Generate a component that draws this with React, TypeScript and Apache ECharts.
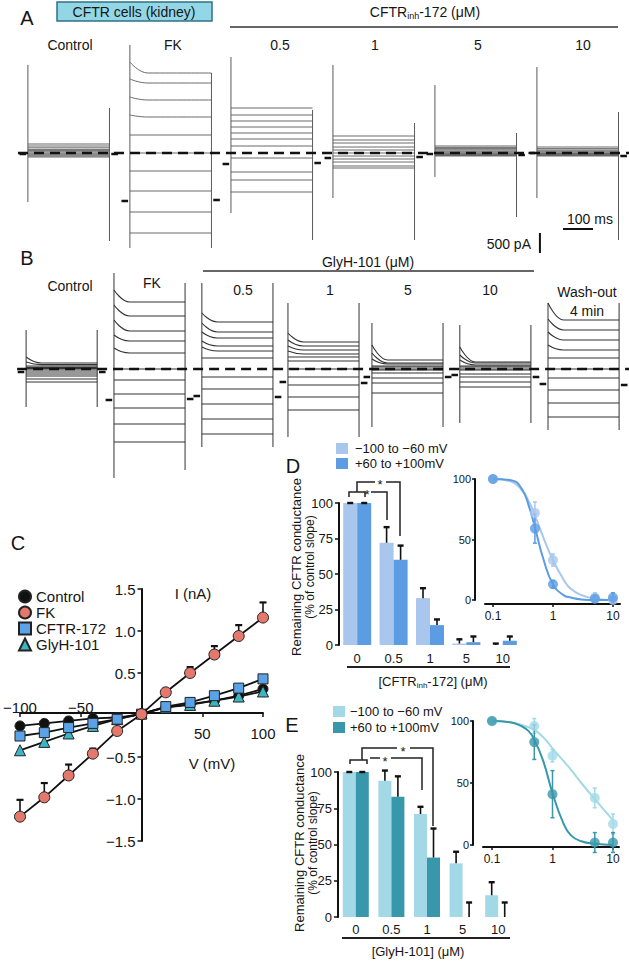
import React, { useEffect, useRef } from 'react';
import * as echarts from 'echarts';

const FONT = '"Liberation Sans", Arial, Helvetica, sans-serif';
const INK = '#111';

// ================= Panel A : CFTRinh-172 whole-cell traces (pA) =================
const A_LABELS = ['Control', 'FK', '0.5', '1', '5', '10'];
const A_CONTROL = [225, 175, 130, 90, 60, 30, 0, -25, -50, -75, -100];
const A_FK = [2000, 1750, 1325, 900, 450, 0, -450, -950, -1475, -2000];
const A_FK_INIT = [2275, 1850, 1400, 950];
const A_INH_05 = [1125, 950, 800, 650, 500, 350, 175, -125, -475, -675, -975];
const A_INH_1 = [425, 325, 250, 150, 75, 0, -75, -150, -225, -325, -375];
const A_INH_5 = [175, 140, 110, 80, 50, 25, 0, -20, -40, -60, -75];
const A_INH_10 = [150, 110, 75, 50, 25, 0, -15, -30, -45, -60, -75];
const A_SPIKE_ON_TOP = [2200, 2700, 2400, 2200, 1700, 2150];
const A_SPIKE_ON_BOT = [-1225, -2375, -1500, -1125, -600, -1125];
const A_SPIKE_OFF_TOP = [1125, 2000, 1075, 750, 500, 1025];
const A_SPIKE_OFF_BOT = [-2200, -2375, -2175, -2175, -1600, -2175];
const A_HOLD_PRE = [-25, -1200, -275, -125, -25, 0];
const A_HOLD_POST = [-25, -1175, -250, -100, -50, -75];

// ================= Panel B : GlyH-101 whole-cell traces (pA) =================
const B_LABELS = ['Control', 'FK', '0.5', '1', '5', '10'];
const B_CONTROL = [150, 110, 75, 40, 10, -25, -75, -125, -175, -250, -325];
const B_CONTROL_INIT = [300, 175];
const B_FK = [1675, 1325, 950, 700, 400, 0, -275, -625, -975, -1375, -1825];
const B_FK_INIT = [1975, 1600, 1225, 850, 525];
const B_GLY_05 = [1175, 925, 775, 575, 450, 275, -200, -500, -875, -1250, -1625];
const B_GLY_05_INIT = [1400, 1150, 925, 700, 550];
const B_GLY_1 = [675, 575, 475, 375, 300, 200, 0, -200, -400, -700, -1025];
const B_GLY_1_INIT = [900, 725, 575, 450];
const B_GLY_5 = [225, 150, 125, 75, 50, 0, -25, -100, -225, -350, -600];
const B_GLY_5_INIT = [600, 400, 250];
const B_GLY_10 = [175, 150, 100, 75, 50, 0, -25, -125, -200, -325, -450];
const B_GLY_10_INIT = [550, 350, 225];
const B_WASH = [1225, 975, 725, 475, 275, 0, -225, -525, -850, -1200];
const B_WASH_INIT = [1650, 1250, 925, 600];
const B_SPIKE_ON_TOP = [975, 2400, 2150, 1650, 1150, 1100, 1650];
const B_SPIKE_ON_BOT = [-950, -2725, -1950, -1700, -1450, -1350, -1525];
const B_SPIKE_OFF_TOP = [975, 2150, 2150, 1650, 1150, 1100, 1650];
const B_SPIKE_OFF_BOT = [-950, -2525, -1950, -1700, -1450, -1350, -1525];
const B_HOLD_PRE = [-75, -775, -675, -325, -200, -150, -375];
const B_HOLD_POST = [-75, -750, -700, -350, -200, -200, -400];

// ================= Panel C : I-V relationship =================
const C_V = [-100, -80, -60, -40, -20, 0, 20, 40, 60, 80, 100];
const C_CONTROL = [-0.13, -0.1, -0.07, -0.04, -0.03, 0.01, 0.09, 0.13, 0.17, 0.23, 0.31];
const C_FK = [-1.21, -0.98, -0.72, -0.46, -0.19, 0.01, 0.27, 0.5, 0.72, 0.94, 1.16];
const C_FK_ERR = [0.2, 0.17, 0.13, 0.06, 0, 0, 0, 0.07, 0.1, 0.13, 0.18];
const C_CFTR172 = [-0.25, -0.21, -0.15, -0.1, -0.05, 0.01, 0.1, 0.15, 0.23, 0.32, 0.43];
const C_GLYH = [-0.42, -0.32, -0.22, -0.13, -0.05, 0.02, 0.09, 0.12, 0.17, 0.22, 0.28];

// ================= Panel D : CFTRinh-172 conductance =================
const DOSE_CATEGORIES = ['0', '0.5', '1', '5', '10'];
const D_NEG = [100, 72, 33, 1, 0];
const D_NEG_ERR = [0, 11, 7, 3, 1];
const D_POS = [100, 60, 14, 2, 3];
const D_POS_ERR = [0, 10, 4, 4, 3];
const DOSE_CONC = [0.1, 0.5, 1, 5, 10];
const DI_NEG = [100, 72, 33, 2, 0];
const DI_NEG_ERR = [0, 9, 5, 4, 2];
const DI_POS = [100, 59, 13, 1, 2];
const DI_POS_ERR = [0, 12, 3, 2, 4];
const FIT_CONC = [0.1, 0.2, 0.3, 0.4, 0.5, 0.7, 1, 1.5, 2, 3, 5, 10];
const DI_FIT_NEG = [100, 98, 91, 81, 70, 51, 33, 17, 9, 4, 1, 0];
const DI_FIT_POS = [100, 99, 92, 77, 60, 33, 13, 4, 2, 0.5, 0, 0];

// ================= Panel E : GlyH-101 conductance =================
const E_NEG = [100, 94, 71, 37, 15];
const E_NEG_ERR = [0, 7, 5, 8, 9];
const E_POS = [100, 83, 41, 0, 0];
const E_POS_ERR = [0, 14, 20, 10, 10];
const EI_NEG = [100, 96, 72, 38, 17];
const EI_NEG_ERR = [0, 6, 5, 8, 8];
const EI_POS = [100, 83, 41, 2, 2];
const EI_POS_ERR = [0, 14, 19, 8, 8];
const EI_FIT_NEG = [100, 99, 97, 95, 93, 87, 78, 68, 61, 50, 37, 20];
const EI_FIT_POS = [100, 99, 96, 92, 85, 68, 42, 18, 8, 3, 1, 0];

// ---------------- layout (not data) ----------------
const T_MAX = 2097; // ms across the page width
const A_START = [93, 433, 770, 1110, 1450, 1790];
const A_DUR = 272;
const B_START = [87, 380, 673, 960, 1240, 1533, 1827];
const B_DUR = 237;
const A_LABEL_X = [70, 173, 280, 375, 478, 583];
const B_LABEL_X = [70, 152, 243, 330, 408, 490];

const C_BLACK = '#111111';
const C_FK_COL = '#E3786C';
const C_BLUE = '#5BA3E6';
const C_TEAL = '#3DB6C4';
const D_NEG_C = '#A9C7EC';
const D_POS_C = '#5B9CE2';
const E_NEG_C = '#A3D9E7';
const E_POS_C = '#3897AB';

function traceSeries(tag: string, axis: number, starts: number[], dur: number, levels: number[][], inits: number[][],
  onTop: number[], onBot: number[], offTop: number[], offBot: number[], holdPre: number[], holdPost: number[],
  color: string, width: number) {
  const out: any[] = [];
  const base = { type: 'line', xAxisIndex: axis, yAxisIndex: axis, symbol: 'none', showSymbol: false, silent: true };
  levels.forEach((lv, p) => {
    const s = starts[p];
    const e = s + dur;
    lv.forEach((y, i) => {
      const y0 = inits[p][i];
      const decay = y0 !== undefined && y0 !== y;
      out.push({
        ...base, name: `${tag}${p}_${i}`,
        data: decay ? [[s, y0], [s + dur * 0.22, y], [e, y]] : [[s, y], [e, y]],
        smooth: decay ? 0.5 : false, smoothMonotone: 'x',
        lineStyle: { color, width }, z: 2,
      });
    });
    out.push({ ...base, name: `${tag}${p}_on`, data: [[s, onTop[p]], [s, onBot[p]]], lineStyle: { color, width: 1 }, z: 2 });
    out.push({ ...base, name: `${tag}${p}_off`, data: [[e, offTop[p]], [e, offBot[p]]], lineStyle: { color, width: 1 }, z: 2 });
    out.push({ ...base, name: `${tag}${p}_hp`, data: [[s - 28, holdPre[p]], [s - 6, holdPre[p]]], lineStyle: { color: INK, width: 2.5 }, z: 3 });
    out.push({ ...base, name: `${tag}${p}_hq`, data: [[e + 6, holdPost[p]], [e + 28, holdPost[p]]], lineStyle: { color: INK, width: 2.5 }, z: 3 });
  });
  return out;
}

function barErr(xi: number, yi: number, vals: number[], errs: number[], side: number, barW: number) {
  return {
    type: 'custom', xAxisIndex: xi, yAxisIndex: yi, silent: true, z: 6,
    data: vals.map((v, i) => [i, v, errs[i]]),
    renderItem: (_p: any, api: any) => {
      const i = api.value(0), v = api.value(1), e = api.value(2);
      const p0 = api.coord([i, v]);
      const p1 = api.coord([i, v + e]);
      const x = p0[0] + side * barW / 2;
      return {
        type: 'group', children: [
          { type: 'line', shape: { x1: x, y1: p0[1], x2: x, y2: p1[1] }, style: { stroke: INK, lineWidth: 1.6 } },
          { type: 'line', shape: { x1: x - 3, y1: p1[1], x2: x + 3, y2: p1[1] }, style: { stroke: INK, lineWidth: 2.4 } },
        ],
      };
    },
  };
}

function symErr(xi: number, yi: number, xs: number[], vals: number[], errs: number[], color: string) {
  return {
    type: 'custom', xAxisIndex: xi, yAxisIndex: yi, silent: true, z: 4,
    data: vals.map((v, i) => [xs[i], v, errs[i]]).filter((d) => d[2] > 0),
    renderItem: (_p: any, api: any) => {
      const x = api.value(0), v = api.value(1), e = api.value(2);
      const lo = api.coord([x, v - e]);
      const hi = api.coord([x, v + e]);
      return {
        type: 'group', children: [
          { type: 'line', shape: { x1: lo[0], y1: lo[1], x2: hi[0], y2: hi[1] }, style: { stroke: color, lineWidth: 1.5 } },
          { type: 'line', shape: { x1: hi[0] - 2, y1: hi[1], x2: hi[0] + 2, y2: hi[1] }, style: { stroke: color, lineWidth: 1.5 } },
          { type: 'line', shape: { x1: lo[0] - 2, y1: lo[1], x2: lo[0] + 2, y2: lo[1] }, style: { stroke: color, lineWidth: 1.5 } },
        ],
      };
    },
  };
}

function upErr(xi: number, yi: number, xs: number[], vals: number[], errs: number[]) {
  return {
    type: 'custom', xAxisIndex: xi, yAxisIndex: yi, silent: true, z: 1,
    data: vals.map((v, i) => [xs[i], v, errs[i]]).filter((d) => d[2] > 0),
    renderItem: (_p: any, api: any) => {
      const x = api.value(0), v = api.value(1), e = api.value(2);
      const p0 = api.coord([x, v]);
      const p1 = api.coord([x, v + e]);
      return {
        type: 'group', children: [
          { type: 'line', shape: { x1: p0[0], y1: p0[1], x2: p1[0], y2: p1[1] }, style: { stroke: INK, lineWidth: 1.6 } },
          { type: 'line', shape: { x1: p1[0] - 3.5, y1: p1[1], x2: p1[0] + 3.5, y2: p1[1] }, style: { stroke: INK, lineWidth: 2.2 } },
        ],
      };
    },
  };
}

const txt = (x: number, y: number, text: string, size = 14, extra: any = {}) => ({
  type: 'text', x, y, z: 10,
  style: { text, fontSize: size, fontFamily: FONT, fill: '#151515', align: 'center', verticalAlign: 'middle', ...extra },
});
const rtxt = (x: number, y: number, text: string, size = 13) => ({
  type: 'text', x, y, rotation: Math.PI / 2, z: 10,
  style: { text, fontSize: size, fontFamily: FONT, fill: '#151515', align: 'center', verticalAlign: 'middle' },
});
const subText = (x: number, y: number, pre: string, sub: string, post: string, size: number) => ({
  type: 'text', x, y, z: 10,
  style: {
    text: `{a|${pre}}{s|${sub}}{a|${post}}`, align: 'center', verticalAlign: 'middle',
    rich: {
      a: { fontSize: size, fontFamily: FONT, fill: '#151515', color: '#151515' },
      s: { fontSize: Math.round(size * 0.65), fontFamily: FONT, fill: '#151515', color: '#151515', padding: [8, 0, 0, 0] },
    },
  },
});
const seg = (x1: number, y1: number, x2: number, y2: number, w = 1.5, c = '#222') => ({
  type: 'line', z: 10, shape: { x1, y1, x2, y2 }, style: { stroke: c, lineWidth: w },
});
const poly = (pts: number[][], w = 1.5) => ({
  type: 'polyline', z: 10, shape: { points: pts }, style: { stroke: '#222', lineWidth: w, fill: 'none' },
});
const box = (x: number, y: number, w: number, h: number, fill: string, stroke = 'none', lw = 0) => ({
  type: 'rect', z: 9, shape: { x, y, width: w, height: h }, style: { fill, stroke, lineWidth: lw },
});

const logFmt = (v: number) => {
  const l = Math.log10(v);
  if (Math.abs(l - Math.round(l)) > 1e-6) return '';
  return v < 1 ? '0.1' : String(Math.round(v));
};

function buildOption() {
  const aSeries = traceSeries('a', 0, A_START, A_DUR,
    [A_CONTROL, A_FK, A_INH_05, A_INH_1, A_INH_5, A_INH_10],
    [[], A_FK_INIT, [], [], [], []],
    A_SPIKE_ON_TOP, A_SPIKE_ON_BOT, A_SPIKE_OFF_TOP, A_SPIKE_OFF_BOT, A_HOLD_PRE, A_HOLD_POST, '#5a5a5a', 0.9);
  const bSeries = traceSeries('b', 1, B_START, B_DUR,
    [B_CONTROL, B_FK, B_GLY_05, B_GLY_1, B_GLY_5, B_GLY_10, B_WASH],
    [B_CONTROL_INIT, B_FK_INIT, B_GLY_05_INIT, B_GLY_1_INIT, B_GLY_5_INIT, B_GLY_10_INIT, B_WASH_INIT],
    B_SPIKE_ON_TOP, B_SPIKE_ON_BOT, B_SPIKE_OFF_TOP, B_SPIKE_OFF_BOT, B_HOLD_PRE, B_HOLD_POST, '#333333', 1.1);

  const hidden = { show: false };
  const lineBase = { type: 'line', symbol: 'none', showSymbol: false, silent: true };

  const axisLine2 = { show: true, onZero: false, lineStyle: { color: INK, width: 2 } };
  const lbl = (size: number, margin: number, extra: any = {}) => ({ fontSize: size, fontFamily: FONT, color: '#151515', margin, ...extra });

  const cMark = (name: string, vals: number[], symbol: string, size: number, color: string, z: number) => ({
    type: 'line', name, xAxisIndex: 2, yAxisIndex: 2, z,
    data: C_V.map((v, i) => [v, vals[i]]),
    symbol, symbolSize: size, showSymbol: true,
    lineStyle: { color: INK, width: 1.8 },
    itemStyle: { color, borderColor: '#222', borderWidth: 1 },
  });

  const series: any[] = [
    ...aSeries,
    ...bSeries,
    { ...lineBase, name: 'a_base', xAxisIndex: 0, yAxisIndex: 0, data: [[60, 0], [T_MAX, 0]], lineStyle: { color: INK, width: 2.6, type: [10, 6] }, z: 5 },
    { ...lineBase, name: 'b_base', xAxisIndex: 1, yAxisIndex: 1, data: [[57, 0], [T_MAX, 0]], lineStyle: { color: INK, width: 2.6, type: [10, 6] }, z: 5 },
    { ...lineBase, name: 'scale_t', xAxisIndex: 0, yAxisIndex: 0, data: [[1877, -1900], [1977, -1900]], lineStyle: { color: INK, width: 2 } },
    { ...lineBase, name: 'scale_i', xAxisIndex: 0, yAxisIndex: 0, data: [[1800, -2000], [1800, -2500]], lineStyle: { color: INK, width: 2 } },

    // Panel C
    upErr(2, 2, C_V, C_FK, C_FK_ERR),
    cMark('Control', C_CONTROL, 'circle', 10, C_BLACK, 3),
    cMark('GlyH-101', C_GLYH, 'triangle', 11, C_TEAL, 4),
    cMark('CFTR-172', C_CFTR172, 'rect', 10, C_BLUE, 5),
    cMark('FK', C_FK, 'circle', 11, C_FK_COL, 6),

    // Panel D bars
    { type: 'bar', name: 'd_neg', xAxisIndex: 3, yAxisIndex: 3, data: D_NEG, barWidth: 14, barGap: '0%', itemStyle: { color: D_NEG_C }, silent: true },
    { type: 'bar', name: 'd_pos', xAxisIndex: 3, yAxisIndex: 3, data: D_POS, barWidth: 14, barGap: '0%', itemStyle: { color: D_POS_C }, silent: true },
    barErr(3, 3, D_NEG, D_NEG_ERR, -1, 14),
    barErr(3, 3, D_POS, D_POS_ERR, 1, 14),

    // Panel D inset
    { ...lineBase, name: 'di_fit_neg', xAxisIndex: 4, yAxisIndex: 4, data: FIT_CONC.map((c, i) => [c, DI_FIT_NEG[i]]), smooth: true, lineStyle: { color: D_NEG_C, width: 2 } },
    { ...lineBase, name: 'di_fit_pos', xAxisIndex: 4, yAxisIndex: 4, data: FIT_CONC.map((c, i) => [c, DI_FIT_POS[i]]), smooth: true, lineStyle: { color: D_POS_C, width: 2 } },
    symErr(4, 4, DOSE_CONC, DI_NEG, DI_NEG_ERR, D_NEG_C),
    symErr(4, 4, DOSE_CONC, DI_POS, DI_POS_ERR, D_POS_C),
    { type: 'scatter', name: 'di_neg', xAxisIndex: 4, yAxisIndex: 4, data: DOSE_CONC.map((c, i) => [c, DI_NEG[i]]), symbolSize: 10, itemStyle: { color: D_NEG_C }, silent: true, z: 5 },
    { type: 'scatter', name: 'di_pos', xAxisIndex: 4, yAxisIndex: 4, data: DOSE_CONC.map((c, i) => [c, DI_POS[i]]), symbolSize: 10, itemStyle: { color: D_POS_C }, silent: true, z: 6 },

    // Panel E bars
    { type: 'bar', name: 'e_neg', xAxisIndex: 5, yAxisIndex: 5, data: E_NEG, barWidth: 13, barGap: '0%', itemStyle: { color: E_NEG_C }, silent: true },
    { type: 'bar', name: 'e_pos', xAxisIndex: 5, yAxisIndex: 5, data: E_POS, barWidth: 13, barGap: '0%', itemStyle: { color: E_POS_C }, silent: true },
    barErr(5, 5, E_NEG, E_NEG_ERR, -1, 13),
    barErr(5, 5, E_POS, E_POS_ERR, 1, 13),

    // Panel E inset
    { ...lineBase, name: 'ei_fit_neg', xAxisIndex: 6, yAxisIndex: 6, data: FIT_CONC.map((c, i) => [c, EI_FIT_NEG[i]]), smooth: true, lineStyle: { color: E_NEG_C, width: 2 } },
    { ...lineBase, name: 'ei_fit_pos', xAxisIndex: 6, yAxisIndex: 6, data: FIT_CONC.map((c, i) => [c, EI_FIT_POS[i]]), smooth: true, lineStyle: { color: E_POS_C, width: 2 } },
    symErr(6, 6, DOSE_CONC, EI_NEG, EI_NEG_ERR, E_NEG_C),
    symErr(6, 6, DOSE_CONC, EI_POS, EI_POS_ERR, E_POS_C),
    { type: 'scatter', name: 'ei_neg', xAxisIndex: 6, yAxisIndex: 6, data: DOSE_CONC.map((c, i) => [c, EI_NEG[i]]), symbolSize: 10, itemStyle: { color: E_NEG_C }, silent: true, z: 5 },
    { type: 'scatter', name: 'ei_pos', xAxisIndex: 6, yAxisIndex: 6, data: DOSE_CONC.map((c, i) => [c, EI_POS[i]]), symbolSize: 10, itemStyle: { color: E_POS_C }, silent: true, z: 6 },
  ];

  const graphic: any[] = [
    // Panel A
    txt(27, 18, 'A', 20),
    box(57, 2, 155, 19, '#93D7E7', '#2E7287', 1.5),
    txt(134, 12, 'CFTR cells (kidney)', 14),
    subText(425, 12, 'CFTR', 'inh', '-172 (μM)', 14),
    seg(230, 27, 618, 27, 1.5, '#333'),
    ...A_LABELS.map((t, i) => txt(A_LABEL_X[i], 45, t, 14)),
    txt(590, 219, '100 ms', 14),
    txt(531, 244, '500 pA', 14, { align: 'right' }),
    // Panel B
    txt(27, 258, 'B', 20),
    txt(368, 262, 'GlyH-101 (μM)', 14),
    seg(203, 271, 534, 271, 1.5, '#333'),
    ...B_LABELS.map((t, i) => txt(B_LABEL_X[i], i === 0 ? 286 : (i === 1 ? 283 : 290), t, 14)),
    txt(587, 292, 'Wash-out', 14),
    txt(587, 311, '4 min', 14),
    // Panel C
    txt(18, 543, 'C', 20),
    txt(193, 593, 'I (nA)', 15),
    txt(212, 763, 'V (mV)', 15),
    // Panel D
    txt(293, 466, 'D', 20),
    box(336, 443, 12, 11, D_NEG_C),
    txt(355, 448, '−100 to −60 mV', 13, { align: 'left' }),
    box(336, 458, 12, 11, D_POS_C),
    txt(355, 463, '+60 to +100mV', 13, { align: 'left' }),
    rtxt(296, 567, 'Remaining CFTR conductance', 13),
    rtxt(310, 567, '(% of control slope)', 12),
    seg(347, 667, 510, 667, 1.8),
    subText(433, 681, '[CFTR', 'inh', '-172] (μM)', 13),
    poly([[349, 497], [349, 492], [365, 492], [365, 497]]),
    poly([[357, 492], [357, 482], [375, 482]]),
    poly([[386, 482], [400, 482], [400, 536]]),
    txt(380, 484, '*', 13),
    poly([[371, 492], [387, 492], [387, 520]]),
    txt(367, 494, '*', 13),
    // Panel E
    txt(292, 725, 'E', 20),
    box(333, 706, 12, 11, E_NEG_C),
    txt(350, 711, '−100 to −60 mV', 13, { align: 'left' }),
    box(333, 722, 12, 11, E_POS_C),
    txt(350, 727, '+60 to +100mV', 13, { align: 'left' }),
    rtxt(299, 843, 'Remaining CFTR conductance', 13),
    rtxt(313, 843, '(% of control slope)', 12),
    seg(342, 938, 510, 938, 1.8),
    txt(418, 951, '[GlyH-101] (μM)', 13),
    poly([[350, 764], [350, 760], [367, 760], [367, 764]]),
    poly([[362, 760], [362, 748], [397, 748]]),
    poly([[410, 748], [433, 748], [433, 826]]),
    txt(403, 751, '*', 13),
    poly([[370, 758], [380, 758]]),
    poly([[391, 758], [422, 758], [422, 790]]),
    txt(385, 761, '*', 13),
  ];

  const G = (left: number, top: number, width: number, height: number) => ({
    left, top, width, height, containLabel: false, outerBoundsMode: 'none',
  });

  return {
    animation: false,
    backgroundColor: '#ffffff',
    textStyle: { fontFamily: FONT },
    grid: [
      G(0, 40, 629, 220),
      G(0, 262, 629, 218),
      G(20, 589, 243, 252),
      G(339, 503, 182, 142),
      G(485, 479, 135, 121),
      G(338, 772, 178, 145),
      G(483, 721, 136, 124),
      G(141.5, 589, 121.5, 252), // C: vertical axis through V = 0
      G(20, 589, 243, 124), // C: horizontal axis through I = 0
    ],
    xAxis: [
      { gridIndex: 0, type: 'value', min: 0, max: T_MAX, ...hidden },
      { gridIndex: 1, type: 'value', min: 0, max: T_MAX, ...hidden },
      { gridIndex: 2, type: 'value', min: -100, max: 100, ...hidden },
      {
        gridIndex: 3, type: 'category', data: DOSE_CATEGORIES,
        axisLine: { show: false }, axisTick: { show: false },
        axisLabel: lbl(13, 7),
      },
      {
        gridIndex: 4, type: 'log', logBase: 10, min: 0.0736, max: 13.1, offset: 4,
        axisLine: axisLine2,
        axisTick: { show: true, length: 3, customValues: [0.1, 1, 10], lineStyle: { color: INK, width: 1.5 } },
        axisLabel: lbl(12, 6, { customValues: [0.1, 1, 10], formatter: logFmt }),
        splitLine: { show: false }, minorTick: { show: false },
      },
      {
        gridIndex: 5, type: 'category', data: DOSE_CATEGORIES,
        axisLine: { show: false }, axisTick: { show: false },
        axisLabel: lbl(13, 6),
      },
      {
        gridIndex: 6, type: 'log', logBase: 10, min: 0.071, max: 12.57, offset: 2,
        axisLine: axisLine2,
        axisTick: { show: true, length: 3, customValues: [0.1, 1, 10], lineStyle: { color: INK, width: 1.5 } },
        axisLabel: lbl(12, 6, { customValues: [0.1, 1, 10], formatter: logFmt }),
        splitLine: { show: false }, minorTick: { show: false },
      },
      { gridIndex: 7, type: 'value', min: 0, max: 1, ...hidden },
      {
        gridIndex: 8, type: 'value', min: -100, max: 100, interval: 50, position: 'bottom',
        axisLine: axisLine2,
        axisTick: { show: true, length: 4, lineStyle: { color: INK, width: 1.5 } },
        axisLabel: lbl(15, 7, {
          verticalAlign: 'middle', lineHeight: 13,
          formatter: (v: number) => (v < 0 ? `−${Math.abs(v)}\n\n` : v > 0 ? `\n\n${v}` : ''),
        }),
        splitLine: { show: false },
      },
    ],
    yAxis: [
      { gridIndex: 0, type: 'value', min: -2675, max: 2825, ...hidden },
      { gridIndex: 1, type: 'value', min: -2775, max: 2675, ...hidden },
      { gridIndex: 2, type: 'value', min: -1.5, max: 1.5, ...hidden },
      {
        gridIndex: 3, type: 'value', min: 0, max: 100, interval: 25,
        axisLine: axisLine2,
        axisTick: { show: true, length: 4, lineStyle: { color: INK, width: 1.5 } },
        axisLabel: lbl(13, 6),
        splitLine: { show: false },
      },
      {
        gridIndex: 4, type: 'value', min: 0, max: 100, interval: 50, offset: 10,
        axisLine: axisLine2,
        axisTick: { show: true, length: 3, lineStyle: { color: INK, width: 1.5 } },
        axisLabel: lbl(11, 4),
        splitLine: { show: false },
      },
      {
        gridIndex: 5, type: 'value', min: 0, max: 100, interval: 25,
        axisLine: axisLine2,
        axisTick: { show: true, length: 4, lineStyle: { color: INK, width: 1.5 } },
        axisLabel: lbl(13, 6),
        splitLine: { show: false },
      },
      {
        gridIndex: 6, type: 'value', min: 0, max: 100, interval: 50, offset: 10,
        axisLine: axisLine2,
        axisTick: { show: true, length: 3, lineStyle: { color: INK, width: 1.5 } },
        axisLabel: lbl(11, 4),
        splitLine: { show: false },
      },
      {
        gridIndex: 7, type: 'value', min: -1.5, max: 1.5, interval: 0.5, position: 'left',
        axisLine: axisLine2,
        axisTick: { show: true, length: 4, lineStyle: { color: INK, width: 1.5 } },
        axisLabel: lbl(15, 6, { formatter: (v: number) => (Math.abs(v) < 1e-9 ? '' : (v < 0 ? '−' : '') + Math.abs(v).toFixed(1)) }),
        splitLine: { show: false },
      },
      { gridIndex: 8, type: 'value', min: 0, max: 1, ...hidden },
    ],
    legend: {
      left: 13, top: 584, orient: 'vertical', itemWidth: 12, itemHeight: 12, itemGap: 1,
      selectedMode: false,
      textStyle: { fontSize: 15, fontFamily: FONT, color: '#151515' },
      data: [
        { name: 'Control', icon: 'circle' },
        { name: 'FK', icon: 'circle' },
        { name: 'CFTR-172', icon: 'rect' },
        { name: 'GlyH-101', icon: 'triangle' },
      ],
    },
    graphic,
    series,
  };
}

export default function App() {
  const ref = useRef<HTMLDivElement>(null);
  useEffect(() => {
    if (!ref.current) return;
    const chart = echarts.init(ref.current, undefined, { renderer: 'svg' });
    chart.setOption(buildOption() as any);
    return () => {
      chart.dispose();
    };
  }, []);
  return (
    <div
      ref={ref}
      style={{ position: 'absolute', left: 0, top: 0, width: 629, height: 962, background: '#fff' }}
    />
  );
}
